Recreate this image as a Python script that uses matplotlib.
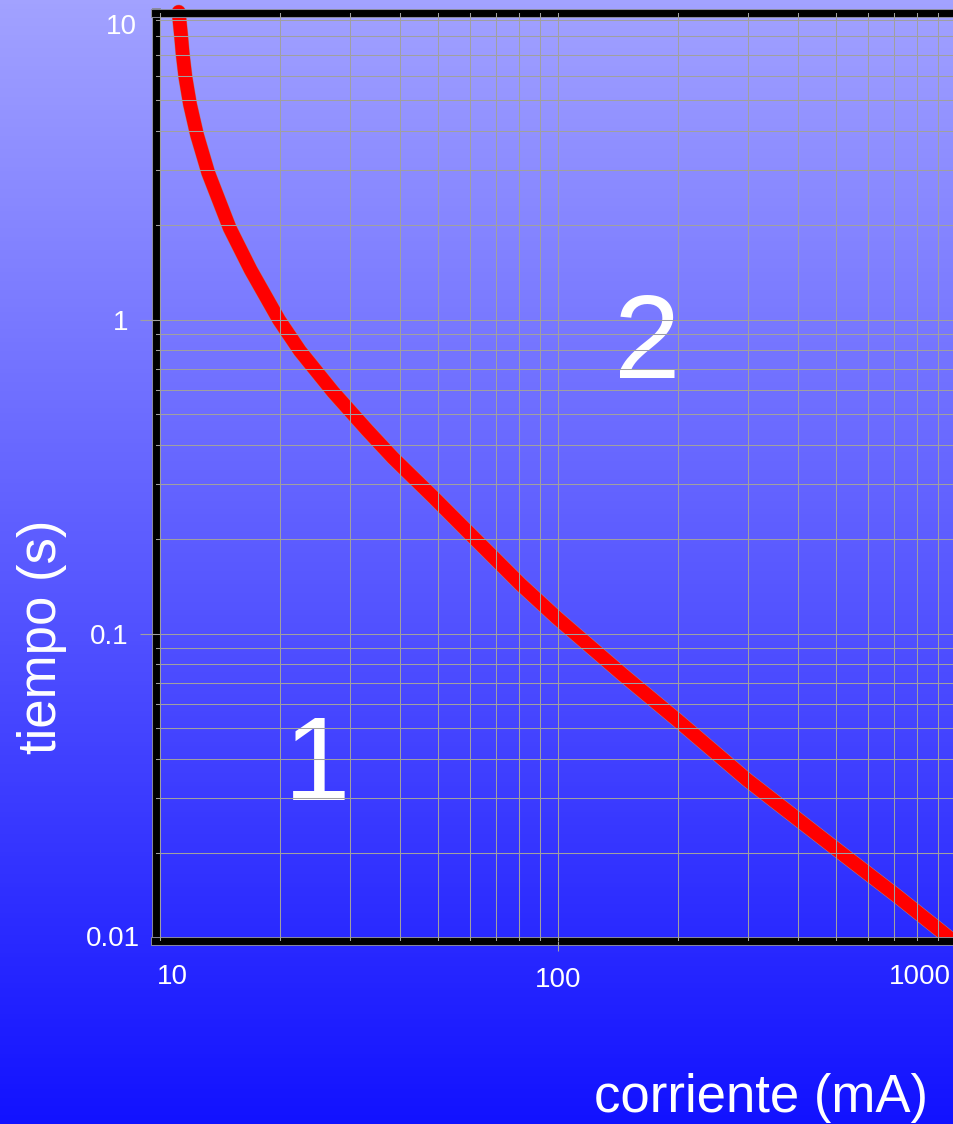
import numpy as np
import matplotlib
matplotlib.use("Agg")
import matplotlib.pyplot as plt
import matplotlib.patheffects as pe
from matplotlib.colors import LinearSegmentedColormap
from matplotlib.ticker import LogLocator, NullFormatter
from matplotlib.transforms import Bbox, TransformedBbox

## datos
corriente = [11.15, 11.30, 11.41, 11.59, 11.90, 12.40, 13.23, 14.98, 16.91, 19.92,
             22.48, 27.23, 33.14, 38.53, 48.57, 59.11, 70.33, 80.33, 99.5, 145.8,
             199.3, 298.7, 491.3, 715.5, 928.6, 989.5]   # mA
tiempo = [9.57, 8.08, 7.03, 5.94, 4.87, 3.88, 2.94, 1.96, 1.443, 1.0,
          0.797, 0.590, 0.4463, 0.3635, 0.2731, 0.2128, 0.1708, 0.1443, 0.1124, 0.0740,
          0.0532, 0.0343, 0.0210, 0.01454, 0.01116, 0.01045]  # s

xticks = [100]
xticklabels = ["100"]
yticks = [1, 0.1]
yticklabels = ["1", "0.1"]
zonas = ["1", "2"]

W, H = 954, 1124
plt.rcParams["font.family"] = ["Liberation Sans", "DejaVu Sans"]

fig = plt.figure(figsize=(W / 100, H / 100), dpi=100)

# fond en degrade
bg = fig.add_axes([0, 0, 1, 1], zorder=-1)
grad = LinearSegmentedColormap.from_list("fond", ["#a2a2ff", "#1212ff"])
bg.imshow(np.linspace(0, 1, 256).reshape(-1, 1), aspect="auto", cmap=grad,
          extent=[0, 1, 0, 1])
bg.axis("off")

# axes (pixels -> fraction de figure)
left, right, top, bottom = 155.5, 956, 12.5, 940.5
ax = fig.add_axes([left / W, 1 - bottom / H, (right - left) / W, (bottom - top) / H])
ax.set_facecolor("none")
ax.set_xscale("log")
ax.set_yscale("log")
ax.set_xlim(9.75, 1000)
ax.set_ylim(0.01056, 9.53)

# courbe
ligne, = ax.plot(corriente, tiempo, color="#ff0000", lw=9.8,
                 solid_capstyle="round", solid_joinstyle="round", zorder=1.5)
ligne.set_path_effects([pe.Stroke(linewidth=10.5, foreground="#b08080"), pe.Normal()])
ligne.set_clip_path(None)
ligne.set_clip_box(TransformedBbox(Bbox([[0, 0], [1, 1.05]]), ax.transAxes))

# grille
ax.xaxis.set_minor_locator(LogLocator(base=10, subs=np.arange(1, 10), numticks=50))
ax.yaxis.set_minor_locator(LogLocator(base=10, subs=np.arange(1, 10), numticks=50))
ax.xaxis.set_minor_formatter(NullFormatter())
ax.yaxis.set_minor_formatter(NullFormatter())
ax.grid(which="both", color="#a0a0a0", lw=0.75)
ax.set_axisbelow(False)

ax.set_xticks(xticks, xticklabels)
ax.set_yticks(yticks, yticklabels)
ax.tick_params(which="minor", length=0)
ax.tick_params(axis="x", which="major", length=7, width=0.8, color="#a0a0a0",
               pad=12, labelsize=20, labelcolor="white")
ax.tick_params(axis="y", which="major", length=11.5, width=0.8, color="#a0a0a0",
               pad=8, labelsize=20, labelcolor="white")

# bords
for s in ["left", "top", "bottom"]:
    ax.spines[s].set_linewidth(5)
    ax.spines[s].set_color("black")
    ax.spines[s].set_capstyle("projecting")
    ax.spines[s].set_path_effects([pe.Stroke(linewidth=6.4, foreground="#8a8a9a"), pe.Normal()])
ax.spines["right"].set_visible(False)

# etiquettes hors graduation
fig.text(172 / W, 1 - 977 / H, "10", color="white", fontsize=20, ha="center", va="center")
fig.text(920 / W, 1 - 977 / H, "1000", color="white", fontsize=20, ha="center", va="center")
fig.text(137 / W, 1 - 27 / H, "10", color="white", fontsize=20, ha="right", va="center")
fig.text(140 / W, 1 - 939 / H, "0.01", color="white", fontsize=20, ha="right", va="center")

# zones
ax.text(24.8, 0.0296, zonas[0], color="white", fontsize=86, ha="center", va="baseline", zorder=1.4)
ax.text(168, 0.653, zonas[1], color="white", fontsize=86, ha="center", va="baseline", zorder=1.4)

# titres des axes
fig.text(928 / W, 1 - 1098 / H, "corriente (mA)", color="white", fontsize=38,
         ha="right", va="center")
fig.text(42 / W, 1 - 637 / H, "tiempo (s)", color="white", fontsize=38,
         ha="center", va="center", rotation=90)

fig.savefig("out.png", dpi=100)
